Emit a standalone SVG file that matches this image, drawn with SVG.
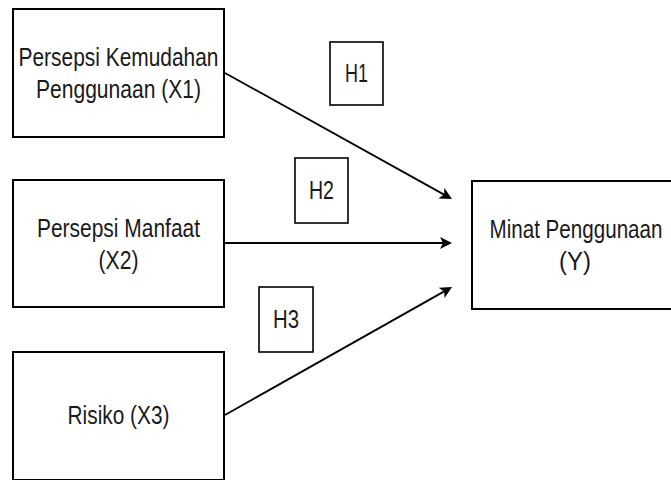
<svg xmlns="http://www.w3.org/2000/svg" width="671" height="480" viewBox="0 0 671 480">
<style>
.box{fill:#fff;stroke:#000;stroke-width:2}
.hbox{fill:#fff;stroke:#000;stroke-width:1.6}
.t{font-family:"Liberation Sans",Arial,sans-serif;font-size:25px;fill:#1a1a1a;text-anchor:middle}
.c{stroke:#000;stroke-width:1.8;fill:none;marker-end:url(#arr)}
</style>
<defs>
<marker id="arr" viewBox="0 0 12 12" refX="3" refY="6" markerWidth="12" markerHeight="12" markerUnits="userSpaceOnUse" orient="auto">
<path d="M0,0 L12,6 L0,12 L3,6 Z" fill="#000"/>
</marker>
</defs>
<rect width="671" height="480" fill="#fff"/>
<g id="connectors">
<line class="c" x1="225" y1="73" x2="444.1" y2="194.6"/>
<line class="c" x1="225" y1="243" x2="443" y2="243"/>
<line class="c" x1="225" y1="415" x2="444.2" y2="291.4"/>
</g>
<g id="x1">
<rect class="box" x="13" y="9" width="211" height="128"/>
<text class="t" x="118.5" y="66" textLength="200" lengthAdjust="spacingAndGlyphs">Persepsi Kemudahan</text>
<text class="t" x="118.5" y="98" textLength="165" lengthAdjust="spacingAndGlyphs">Penggunaan (X1)</text>
</g>
<g id="x2">
<rect class="box" x="13" y="180" width="211" height="127"/>
<text class="t" x="118.5" y="236.5" textLength="163" lengthAdjust="spacingAndGlyphs">Persepsi Manfaat</text>
<text class="t" x="118.5" y="268.5" textLength="40" lengthAdjust="spacingAndGlyphs">(X2)</text>
</g>
<g id="x3">
<rect class="box" x="13" y="352" width="211" height="128"/>
<text class="t" x="118.5" y="424" textLength="102" lengthAdjust="spacingAndGlyphs">Risiko (X3)</text>
</g>
<g id="y">
<rect class="box" x="472" y="181" width="211" height="128"/>
<text class="t" x="576" y="238" textLength="173" lengthAdjust="spacingAndGlyphs">Minat Penggunaan</text>
<text class="t" x="575" y="270" textLength="32" lengthAdjust="spacingAndGlyphs">(Y)</text>
</g>
<g id="h1">
<rect class="hbox" x="330" y="42" width="53" height="63"/>
<text class="t" x="356.5" y="82" textLength="23" lengthAdjust="spacingAndGlyphs">H1</text>
</g>
<g id="h2">
<rect class="hbox" x="295" y="158" width="53" height="65"/>
<text class="t" x="321.5" y="199" textLength="25" lengthAdjust="spacingAndGlyphs">H2</text>
</g>
<g id="h3">
<rect class="hbox" x="259" y="287" width="54" height="65"/>
<text class="t" x="286" y="328" textLength="26" lengthAdjust="spacingAndGlyphs">H3</text>
</g>
</svg>
